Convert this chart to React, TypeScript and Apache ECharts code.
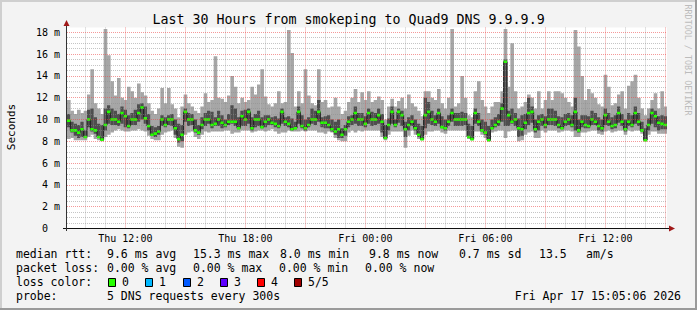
import React, { useEffect, useRef } from 'react';
import * as echarts from 'echarts';

// time in minutes from Thu 00:00; first step starts Thu 09:05, 10-minute steps
const T0 = 545;
const STEP = 10;
const X_MIN = 545;
const X_MAX = 2345;
const Y_MAX = 18.44;

// per-step smoke: min ping, lower dark band, median, upper dark band, max ping (ms)
const minV = [
  8.2, 8.3, 8.1, 8.1, 8.1, 8.1, 8.4, 8.6, 8.2, 8.1, 8.0, 8.4, 8.6, 8.8, 9.0, 9.1, 9.0, 8.9, 8.9, 9.0,
  9.0, 9.1, 9.0, 8.9, 8.5, 8.2, 8.1, 8.1, 8.6, 8.8, 8.9, 9.0, 8.3, 7.5, 7.4, 8.6, 8.8, 8.9, 8.4, 8.2,
  8.6, 8.9, 8.8, 8.9, 8.9,
  8.9, 8.9, 9.0, 9.0, 8.7, 8.8, 8.8, 9.0, 9.0, 9.0, 8.8, 8.9, 9.0, 9.0, 8.9, 9.0, 9.1, 8.9, 8.7, 8.8,
  8.8, 9.0, 8.9, 8.9, 8.9, 9.0, 8.9, 9.0, 9.0, 9.0, 8.8, 8.8, 8.7, 8.9, 8.8, 8.3, 8.1, 8.0, 8.0, 8.8,
  9.0, 8.8, 9.0, 8.9, 9.0,
  9.0, 9.0, 9.0, 9.0, 8.4, 8.1, 8.6, 8.9, 8.9, 8.9, 8.9, 7.4, 8.5, 9.0, 8.6, 8.2, 8.1, 8.6, 8.9, 8.9,
  9.0, 9.0, 8.8, 8.7, 9.0, 9.0, 9.0, 9.0, 9.0, 9.0, 8.2, 8.1, 8.9, 8.9, 8.6, 8.3, 8.0, 8.8, 8.9, 9.0,
  9.0, 8.3, 8.9, 9.0, 9.0,
  8.0, 8.1, 8.6, 8.8, 8.9, 8.3, 8.3, 9.0, 8.8, 9.0, 9.0, 9.0, 8.8, 8.9, 9.0, 9.0, 8.9, 8.4, 8.4, 8.8,
  8.8, 8.9, 9.0, 9.0, 8.7, 8.6, 8.9, 9.0, 8.8, 8.9, 9.0, 9.0, 8.6, 9.0, 8.9, 9.0, 9.0, 8.7, 8.0, 8.6,
  8.9, 8.9, 8.7, 8.7, 8.7,
];
const darkLo = [
  9.3, 8.8, 8.5, 8.3, 8.4, 8.3, 9.3, 8.9, 8.7, 8.3, 8.1, 9.0, 9.6, 9.5, 9.5, 9.4, 9.6, 9.3, 9.2, 9.5,
  9.5, 9.8, 10.0, 9.6, 9.0, 8.5, 8.4, 8.6, 9.4, 9.3, 9.5, 9.4, 8.6, 7.9, 8.0, 9.8, 9.4, 9.5, 8.8, 8.6,
  9.1, 9.4, 9.6, 9.2, 9.4,
  9.4, 9.2, 9.3, 9.5, 9.6, 9.4, 9.1, 9.4, 9.4, 9.6, 9.0, 9.3, 9.4, 9.2, 9.3, 9.5, 9.5, 9.3, 9.2, 9.6,
  9.4, 9.3, 9.0, 9.1, 9.6, 9.2, 9.0, 9.3, 9.6, 9.5, 9.8, 9.3, 9.2, 9.2, 8.9, 8.6, 8.3, 8.3, 8.5, 9.3,
  9.5, 9.6, 9.4, 9.4, 9.3,
  9.6, 9.4, 9.5, 9.6, 8.8, 8.2, 9.0, 9.6, 9.3, 9.7, 9.4, 8.4, 9.0, 9.4, 9.0, 8.4, 8.15, 9.2, 9.6, 9.5,
  9.4, 9.6, 9.2, 9.0, 9.4, 9.8, 9.4, 9.4, 9.4, 9.5, 8.3, 8.2, 9.6, 9.4, 8.9, 8.6, 8.05, 9.1, 9.3, 9.4,
  9.8, 9.4, 9.4, 9.6, 9.4,
  8.4, 8.5, 9.1, 9.5, 9.7, 8.8, 9.0, 9.4, 9.2, 9.5, 9.5, 9.4, 9.2, 9.1, 9.4, 9.5, 9.3, 9.0, 8.8, 9.3,
  9.2, 9.2, 9.5, 9.5, 9.0, 8.9, 9.5, 9.4, 9.1, 9.2, 9.7, 9.4, 8.9, 9.4, 9.3, 9.6, 9.4, 8.9, 8.1, 9.0,
  9.6, 9.3, 9.0, 9.1, 9.1,
];
const medV = [
  9.9, 9.0, 9.0, 8.8, 9.1, 8.4, 10.0, 9.1, 9.0, 8.4, 8.15, 9.5, 10.7, 10.0, 10.0, 9.8, 10.6, 10.3, 9.4, 10.0,
  10.0, 10.6, 11.1, 10.1, 9.4, 8.6, 8.7, 8.9, 10.0, 9.5, 10.0, 10.0, 9.2, 8.2, 8.6, 10.7, 10.0, 10.0, 9.0, 8.8,
  9.5, 10.0, 10.0, 9.5, 9.6,
  10.0, 9.7, 9.5, 9.8, 9.8, 9.8, 9.2, 10.3, 10.0, 10.7, 9.2, 10.0, 10.0, 9.3, 9.8, 10.0, 9.7, 9.6, 9.4, 10.7,
  9.8, 9.6, 9.1, 9.2, 10.7, 9.4, 9.2, 9.5, 10.0, 10.0, 10.7, 9.7, 9.7, 9.5, 9.1, 8.9, 9.1, 8.6, 9.1, 9.8,
  10.0, 10.6, 10.0, 10.0, 9.6,
  10.6, 10.0, 10.0, 10.4, 9.8, 8.3, 9.5, 10.7, 9.5, 10.7, 10.4, 9.1, 9.5, 9.8, 9.2, 8.6, 8.2, 10.4, 10.7, 10.0,
  9.8, 10.6, 9.3, 9.2, 9.8, 10.6, 10.0, 10.0, 10.0, 10.0, 8.4, 8.2, 10.6, 9.8, 9.0, 8.8, 8.1, 9.2, 9.5, 9.8,
  11.0, 15.3, 10.4, 9.8, 10.0,
  9.2, 9.1, 9.7, 10.6, 10.7, 9.1, 9.8, 10.0, 9.5, 10.0, 10.0, 10.0, 9.5, 9.2, 9.8, 10.0, 9.5, 10.7, 9.0, 9.8,
  9.5, 9.4, 10.0, 9.8, 9.4, 9.2, 10.4, 9.8, 9.4, 9.5, 10.6, 9.8, 9.1, 9.8, 9.5, 10.6, 9.8, 9.0, 8.1, 9.5,
  10.6, 10.3, 9.7, 9.6, 9.5,
];
const darkHi = [
  10.5, 9.8, 9.6, 9.5, 9.8, 9.0, 10.9, 11.0, 10.2, 9.6, 9.5, 11.0, 11.3, 11.0, 10.8, 10.5, 11.2, 10.9, 10.4, 10.6,
  10.9, 11.4, 11.5, 11.2, 10.5, 9.4, 9.3, 9.4, 10.4, 10.2, 10.4, 10.5, 10.0, 9.6, 9.5, 11.0, 10.6, 10.5, 10.0, 9.5,
  10.2, 10.6, 10.8, 10.7, 10.2,
  10.8, 10.4, 10.0, 10.5, 11.3, 11.0, 10.2, 10.8, 10.9, 11.0, 10.2, 10.5, 10.8, 10.2, 10.4, 10.4, 10.2, 10.3, 10.1, 11.0,
  10.2, 10.3, 10.1, 9.8, 11.2, 10.4, 10.0, 10.2, 11.0, 10.8, 11.8, 10.2, 10.3, 10.4, 10.0, 9.8, 10.0, 9.2, 9.5, 10.3,
  10.4, 11.2, 10.6, 10.6, 10.3,
  11.0, 10.7, 10.6, 11.0, 10.5, 9.5, 10.1, 11.2, 10.0, 11.0, 10.8, 9.8, 10.2, 10.4, 10.0, 9.6, 9.4, 12.0, 11.6, 10.8,
  10.4, 11.0, 10.3, 10.0, 10.4, 11.0, 10.6, 10.6, 10.7, 10.6, 9.6, 9.4, 11.0, 10.6, 10.0, 9.8, 9.4, 10.0, 10.2, 10.5,
  11.5, 15.5, 10.8, 11.0, 10.6,
  10.1, 10.4, 10.5, 12.0, 11.2, 10.0, 10.4, 10.5, 10.3, 11.0, 11.0, 10.8, 10.3, 10.2, 10.5, 10.6, 10.4, 12.0, 10.0, 10.4,
  10.4, 10.3, 10.8, 10.6, 10.2, 10.0, 11.0, 10.6, 10.2, 10.4, 11.2, 10.5, 10.0, 10.6, 10.4, 11.2, 10.6, 9.8, 9.2, 10.1,
  11.0, 10.8, 10.3, 10.4, 10.3,
];
const maxV = [
  11.8, 10.8, 10.5, 10.9, 10.6, 10.8, 12.3, 14.6, 11.5, 11.0, 10.5, 18.3, 15.9, 13.5, 12.2, 13.8, 12.0, 11.8, 13.0, 12.6,
  12.0, 13.3, 12.5, 12.2, 11.5, 10.8, 10.5, 11.0, 12.9, 11.5, 12.9, 11.4, 11.0, 10.2, 11.2, 12.3, 11.5, 11.2, 10.8, 10.6,
  11.2, 12.4, 11.6, 11.8, 15.8,
  12.0, 11.9, 11.6, 12.2, 14.0, 13.0, 11.5, 12.0, 11.6, 11.8, 13.0, 12.3, 13.2, 14.6, 12.1, 11.4, 11.2, 11.5, 12.6, 11.5,
  11.6, 18.2, 16.1, 11.2, 12.6, 11.5, 14.6, 12.2, 11.5, 11.3, 14.6, 11.6, 11.8, 11.1, 11.2, 12.0, 11.2, 10.5, 10.8, 11.6,
  12.0, 12.8, 11.6, 12.5, 11.8,
  12.6, 11.6, 11.8, 12.1, 11.8, 10.0, 11.2, 11.9, 11.2, 11.7, 12.0, 11.0, 12.3, 11.5, 11.2, 10.8, 10.3, 12.6, 12.6, 12.0,
  11.8, 12.8, 11.5, 11.0, 12.0, 18.3, 11.2, 11.5, 14.0, 12.0, 10.4, 10.2, 12.6, 13.5, 11.8, 11.2, 10.6, 11.2, 11.6, 11.6,
  12.6, 18.3, 13.0, 17.0, 12.6,
  11.0, 11.2, 11.6, 12.3, 12.0, 11.0, 12.6, 11.0, 11.8, 12.6, 11.8, 12.6, 12.6, 12.4, 12.0, 11.6, 11.2, 18.2, 16.7, 14.0,
  11.8, 12.8, 12.4, 12.0, 11.4, 11.2, 14.1, 13.0, 11.3, 11.5, 12.3, 12.6, 11.0, 13.1, 13.5, 14.1, 12.0, 11.0, 10.4, 11.0,
  11.8, 12.4, 11.0, 12.6, 11.2,
];

const xLabelValues = [720, 1080, 1440, 1800, 2160];
const xLabelTexts = ['Thu 12:00', 'Thu 18:00', 'Fri 00:00', 'Fri 06:00', 'Fri 12:00'];
const yLabelValues = [0, 2, 4, 6, 8, 10, 12, 14, 16, 18];
const yLabelTexts = ['0  ', '2 m', '4 m', '6 m', '8 m', '10 m', '12 m', '14 m', '16 m', '18 m'];
// hour grid lines (minutes from Thu 00:00), major every 3 hours
const hourLines = [
  600, 660, 720, 780, 840, 900, 960, 1020, 1080, 1140, 1200, 1260, 1320, 1380, 1440,
  1500, 1560, 1620, 1680, 1740, 1800, 1860, 1920, 1980, 2040, 2100, 2160, 2220, 2280, 2340,
];
const valueLines = [
  0.5, 1, 1.5, 2, 2.5, 3, 3.5, 4, 4.5, 5, 5.5, 6, 6.5, 7, 7.5, 8, 8.5, 9,
  9.5, 10, 10.5, 11, 11.5, 12, 12.5, 13, 13.5, 14, 14.5, 15, 15.5, 16, 16.5, 17, 17.5, 18,
];

const titleText = 'Last 30 Hours from smokeping to Quad9 DNS 9.9.9.9';
const rttStats = ['9.6 ms avg', '15.3 ms max', '8.0 ms min', '9.8 ms now', '0.7 ms sd', '13.5', 'am/s'];
const rttStatX = [107, 193, 280, 369, 459, 539, 586];
const lossStats = ['0.00 % avg', '0.00 % max', '0.00 % min', '0.00 % now'];
const lossStatX = [107, 193, 279, 365];
const lossLabels = ['0', '1', '2', '3', '4', '5/5'];
const lossColors = ['#26ff00', '#00b8ff', '#0059ff', '#5e00ff', '#ff0000', '#a00000'];
const lossBoxX = [108, 145, 183, 220, 257, 294];
const probeText = '5 DNS requests every 300s';
const dateText = 'Fri Apr 17 15:05:06 2026';

const MONO = '"DejaVu Sans Mono", monospace';
const MAJOR_GRID = 'rgba(235, 70, 70, 0.55)';
const MINOR_GRID = 'rgba(140, 140, 140, 0.5)';

export default function App() {
  const ref = useRef<HTMLDivElement>(null);

  useEffect(() => {
    if (!ref.current) return;
    const chart = echarts.init(ref.current, null, { renderer: 'svg' });

    const rows = minV.map((v, i) => [T0 + i * STEP, v, darkLo[i], medV[i], darkHi[i], maxV[i]]);
    const medLine = medV.map((v, i) => [T0 + i * STEP, v]);

    const gridMarks: any[] = [];
    hourLines.forEach((h) => {
      gridMarks.push({
        xAxis: h,
        lineStyle: { color: h % 180 === 0 ? MAJOR_GRID : MINOR_GRID, width: 1, type: [1, 1] },
      });
    });
    valueLines.forEach((v) => {
      gridMarks.push({
        yAxis: v,
        lineStyle: { color: v % 2 === 0 ? MAJOR_GRID : MINOR_GRID, width: 1, type: [1, 1] },
      });
    });

    const txt = (text: string, x: number, y: number, extra: any = {}) => ({
      type: 'text',
      x,
      y,
      silent: true,
      style: {
        text,
        fontFamily: MONO,
        fontSize: 11.5,
        fill: '#000',
        align: 'left',
        verticalAlign: 'middle',
        ...extra,
      },
    });

    const graphic: any[] = [
      // frame
      { type: 'line', shape: { x1: 0, y1: 1, x2: 697, y2: 1 }, style: { stroke: '#cfcfcf', lineWidth: 2 } },
      { type: 'line', shape: { x1: 1, y1: 0, x2: 1, y2: 310 }, style: { stroke: '#cfcfcf', lineWidth: 2 } },
      { type: 'line', shape: { x1: 0, y1: 309, x2: 697, y2: 309 }, style: { stroke: '#9a9a9a', lineWidth: 2 } },
      { type: 'line', shape: { x1: 696, y1: 0, x2: 696, y2: 310 }, style: { stroke: '#9a9a9a', lineWidth: 2 } },
      // axes
      { type: 'line', z: 100, shape: { x1: 63, y1: 228.5, x2: 670, y2: 228.5 }, style: { stroke: '#111', lineWidth: 1 } },
      { type: 'line', z: 100, shape: { x1: 66.5, y1: 231, x2: 66.5, y2: 25 }, style: { stroke: '#333', lineWidth: 1 } },
      { type: 'polygon', z: 100, shape: { points: [[63.5, 26], [69.5, 26], [66.5, 20]] }, style: { fill: '#a01818' } },
      { type: 'polygon', z: 100, shape: { points: [[669, 225.5], [669, 231.5], [675, 228.5]] }, style: { fill: '#a01818' } },
      // titles
      txt(titleText, 348.5, 19, { fontSize: 13.3, align: 'center' }),
      { ...txt('Seconds', 11, 127, { fontSize: 11, align: 'center' }), rotation: Math.PI / 2 },
      { ...txt('RRDTOOL / TOBI OETIKER', 688, 60, { fontSize: 8.4, align: 'center', fill: '#bcbcbc' }), rotation: -Math.PI / 2 },
      // legend
      txt('median rtt:', 16, 254),
      ...rttStats.map((s, i) => txt(s, rttStatX[i], 254)),
      txt('packet loss:', 16, 268),
      ...lossStats.map((s, i) => txt(s, lossStatX[i], 268)),
      txt('loss color:', 16, 282),
      ...lossLabels.map((s, i) => ({
        type: 'rect',
        shape: { x: lossBoxX[i] + 0.5, y: 278.5, width: 7, height: 8 },
        style: { fill: lossColors[i], stroke: '#000', lineWidth: 1 },
      })),
      ...lossLabels.map((s, i) => txt(s, lossBoxX[i] + 14, 282)),
      txt('probe:', 16, 296),
      txt(probeText, 107, 296),
      txt(dateText, 681, 296, { align: 'right' }),
    ];

    const option: any = {
      animation: false,
      backgroundColor: '#f3f3f3',
      grid: {
        left: 67,
        right: 30,
        top: 27.5,
        bottom: 81.5,
        show: true,
        backgroundColor: '#ffffff',
        borderWidth: 0,
      },
      xAxis: {
        type: 'value',
        min: X_MIN,
        max: X_MAX,
        axisLine: { show: false },
        axisTick: { show: false },
        splitLine: { show: false },
        axisLabel: {
          customValues: xLabelValues,
          formatter: (v: number) => {
            const k = xLabelValues.indexOf(v);
            return k >= 0 ? xLabelTexts[k] : '';
          },
          fontFamily: MONO,
          fontSize: 10,
          color: '#000',
          margin: 5,
        },
      },
      yAxis: {
        type: 'value',
        min: 0,
        max: Y_MAX,
        axisLine: { show: false },
        axisTick: { show: false },
        splitLine: { show: false },
        axisLabel: {
          customValues: yLabelValues,
          formatter: (v: number) => {
            const k = yLabelValues.indexOf(Math.round(v * 100) / 100);
            return k >= 0 ? yLabelTexts[k] : '';
          },
          fontFamily: MONO,
          fontSize: 10,
          color: '#000',
          margin: 7,
        },
      },
      series: [
        {
          type: 'line',
          data: [],
          z: 1,
          silent: true,
          markLine: {
            silent: true,
            symbol: ['none', 'none'],
            label: { show: false },
            emphasis: { disabled: true },
            data: gridMarks,
          },
        },
        {
          type: 'custom',
          z: 2,
          silent: true,
          clip: true,
          data: rows,
          encode: { x: 0, y: [1, 5] },
          renderItem: (params: any, api: any) => {
            const t = api.value(0);
            const pMin = api.coord([t, api.value(1)]);
            const pLo = api.coord([t, api.value(2)]);
            const pHi = api.coord([t, api.value(4)]);
            const pMax = api.coord([t, api.value(5)]);
            const w = api.size([STEP, 0])[0] + 0.3;
            return {
              type: 'group',
              children: [
                {
                  type: 'rect',
                  shape: { x: pMin[0], y: pMax[1], width: w, height: pMin[1] - pMax[1] },
                  style: { fill: '#a6a6a6' },
                },
                {
                  type: 'rect',
                  shape: { x: pLo[0], y: pHi[1], width: w, height: pLo[1] - pHi[1] },
                  style: { fill: '#4e4e4e' },
                },
              ],
            };
          },
        },
        {
          type: 'line',
          z: 3,
          silent: true,
          step: 'end',
          showSymbol: false,
          data: medLine,
          lineStyle: { color: '#1a1a1a', width: 1 },
        },
        {
          type: 'custom',
          z: 4,
          silent: true,
          clip: true,
          data: medLine,
          encode: { x: 0, y: 1 },
          renderItem: (params: any, api: any) => {
            const p = api.coord([api.value(0), api.value(1)]);
            const w = api.size([STEP, 0])[0];
            return {
              type: 'rect',
              shape: { x: p[0], y: p[1] - 1.3, width: w, height: 2.6 },
              style: { fill: '#26ff00' },
            };
          },
        },
      ],
      graphic,
    };

    chart.setOption(option);
    return () => chart.dispose();
  }, []);

  return (
    <div
      ref={ref}
      style={{ position: 'absolute', left: 0, top: 0, width: 697, height: 310 }}
    />
  );
}
